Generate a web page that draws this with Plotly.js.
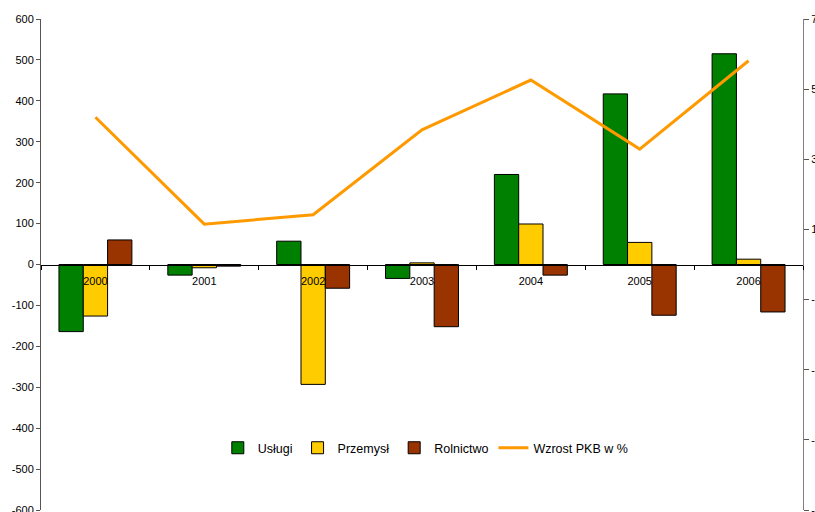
<!DOCTYPE html>
<html>
<head>
<meta charset="utf-8">
<script src="https://cdn.plot.ly/plotly-3.0.1.min.js"></script>
<style>html,body{margin:0;padding:0;background:#fff;}#chart{width:815px;height:512px;}</style>
</head>
<body>
<div id="chart"></div>
<script>
const years = ["2000", "2001", "2002", "2003", "2004", "2005", "2006"];
const uslugi = [-164, -26, 57, -34, 220, 417, 515];
const przemysl = [-126, -8, -293, 4, 99, 54, 13];
const rolnictwo = [60, -4, -58, -152, -26, -124, -116];
const wzrostPKB = [4.20, 1.15, 1.42, 3.84, 5.26, 3.29, 5.81];
const leftTicks = [-600, -500, -400, -300, -200, -100, 0, 100, 200, 300, 400, 500, 600];
const rightTicks = [-7, -5, -3, -1, 1, 3, 5, 7];

const font = {family: "Liberation Sans, Arial, sans-serif", size: 11, color: "#000"};

const barLine = {color: "#000", width: 1};
const data = [
  {type: "bar", name: "Usługi", x: years, y: uslugi, marker: {color: "#008000", line: barLine}},
  {type: "bar", name: "Przemysł", x: years, y: przemysl, marker: {color: "#FFCC00", line: barLine}},
  {type: "bar", name: "Rolnictwo", x: years, y: rolnictwo, marker: {color: "#993300", line: barLine}},
  {type: "scatter", mode: "lines", name: "Wzrost PKB w %", x: years, y: wzrostPKB, yaxis: "y2",
   line: {color: "#FF9900", width: 3}}
];

const layout = {
  width: 815, height: 512,
  margin: {l: 41, r: 12, t: 19, b: 2, pad: 0},
  paper_bgcolor: "#fff", plot_bgcolor: "#fff",
  font: font,
  barmode: "group", bargap: 0.33, bargroupgap: 0,
  showlegend: true,
  legend: {orientation: "h", x: 0.505, xanchor: "center", y: 0.126, yanchor: "middle",
           itemwidth: 30,
           font: {family: "Liberation Sans, Arial, sans-serif", size: 12.5, color: "#000"},
           bgcolor: "rgba(0,0,0,0)", traceorder: "normal"},
  xaxis: {type: "category", anchor: "free", position: 0.5, showline: true, linecolor: "#000", linewidth: 1,
          ticks: "outside", ticklen: 4, tickcolor: "#000", tickson: "boundaries", ticklabelstandoff: 6,
          showgrid: false, zeroline: false, tickfont: font, fixedrange: true},
  yaxis: {range: [-600, 600], tickvals: leftTicks, ticktext: leftTicks.map(String), ticklabeloverflow: "allow",
          showline: true, linecolor: "#555", linewidth: 1, ticks: "outside", ticklen: 4, tickcolor: "#555",
          showgrid: false, zeroline: false, tickfont: font},
  yaxis2: {overlaying: "y", side: "right", range: [-7, 7], tickvals: rightTicks, ticktext: rightTicks.map(String),
           ticklabeloverflow: "allow",
           showline: true, linecolor: "#808080", linewidth: 1, ticks: "outside", ticklen: 5, tickcolor: "#555",
           showgrid: false, zeroline: false, tickfont: font}
};

Plotly.newPlot("chart", data, layout, {displayModeBar: false, staticPlot: true});
</script>
</body>
</html>
